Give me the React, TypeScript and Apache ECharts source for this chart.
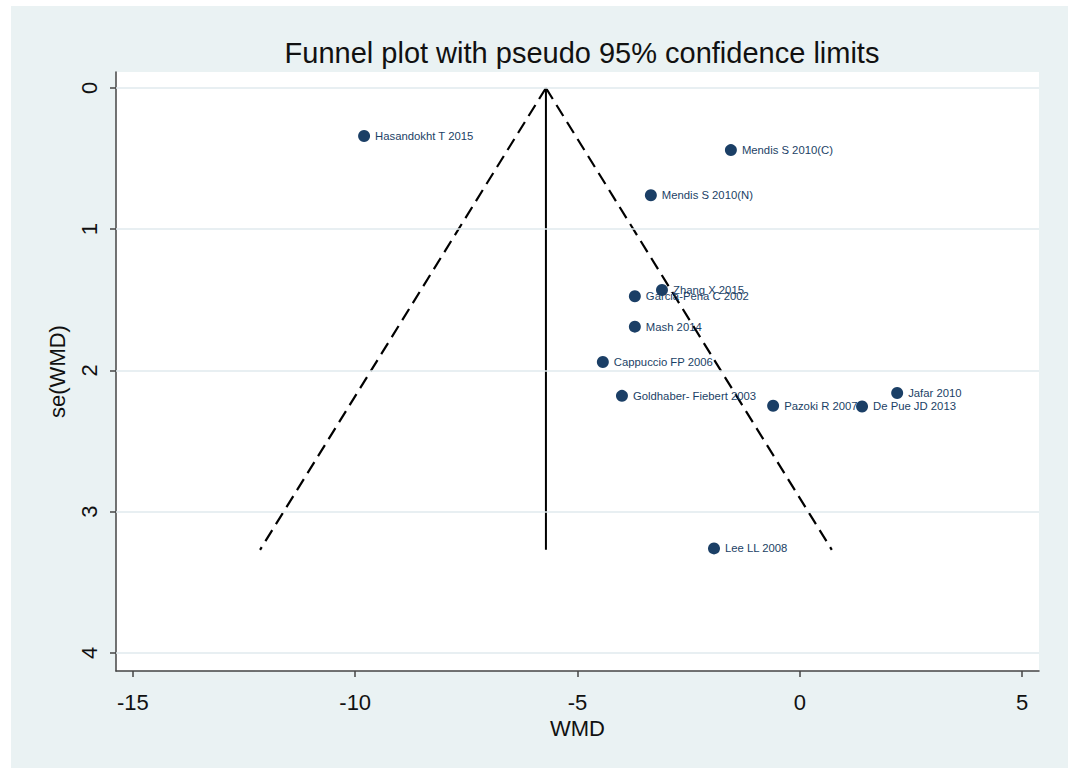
import React, { useEffect, useRef } from "react";
import * as echarts from "echarts";

const studyNames = [
  "Hasandokht T 2015",
  "Mendis S 2010(C)",
  "Mendis S 2010(N)",
  "Zhang X 2015",
  "Garcia-Pena C 2002",
  "Mash 2014",
  "Cappuccio FP 2006",
  "Goldhaber- Fiebert 2003",
  "Pazoki R 2007",
  "De Pue JD 2013",
  "Jafar 2010",
  "Lee LL 2008",
];
const wmdValues = [-9.8, -1.55, -3.35, -3.1, -3.71, -3.71, -4.43, -4.0, -0.6, 1.4, 2.19, -1.93];
const seValues = [0.34, 0.44, 0.76, 1.43, 1.475, 1.69, 1.94, 2.18, 2.25, 2.255, 2.16, 3.26];

const pooledLine = [[-5.71, 0], [-5.71, 3.27]];
const lowerLimit = [[-5.71, 0], [-12.14, 3.27]];
const upperLimit = [[-5.71, 0], [0.72, 3.27]];

const xTicks = [-15, -10, -5, 0, 5];
const yTicks = [0, 1, 2, 3, 4];

const NAVY = "#1b3f66";
const BG = "#eaf2f3";
const FONT = "'Liberation Sans', Arial, sans-serif";

export default function App() {
  const ref = useRef<HTMLDivElement>(null);
  useEffect(() => {
    document.body.style.margin = "0";
    const chart = echarts.init(ref.current!, null, { renderer: "svg" });
    const scatterData = studyNames.map((n, i) => ({ value: [wmdValues[i], seValues[i]], name: n }));
    chart.setOption({
      animation: false,
      backgroundColor: "#ffffff",
      textStyle: { fontFamily: FONT },
      graphic: [
        {
          type: "rect",
          shape: { x: 11, y: 6, width: 1057, height: 762 },
          style: { fill: BG },
          z: -10,
          silent: true,
        },
      ],
      title: {
        text: "Funnel plot with pseudo 95% confidence limits",
        left: 577,
        textAlign: "center",
        top: 33,
        textStyle: { fontFamily: FONT, fontSize: 29, fontWeight: "normal", color: "#111" },
      },
      grid: {
        left: 116,
        top: 72,
        right: 29,
        bottom: 99,
        show: true,
        backgroundColor: "#ffffff",
        borderWidth: 0,
      },
      xAxis: {
        type: "value",
        min: -15.38,
        max: 5.38,
        name: "WMD",
        nameLocation: "middle",
        nameGap: 46,
        nameTextStyle: { fontFamily: FONT, fontSize: 22, color: "#111" },
        axisLine: { show: true, onZero: false, lineStyle: { color: "#444", width: 1.5 } },
        axisTick: { show: true, length: 6, customValues: xTicks, lineStyle: { color: "#444", width: 1.5 } },
        axisLabel: {
          customValues: xTicks,
          fontFamily: FONT,
          fontSize: 22,
          color: "#111",
          margin: 20,
        },
        splitLine: { show: false },
      },
      yAxis: {
        type: "value",
        inverse: true,
        min: -0.113,
        max: 4.128,
        name: "se(WMD)",
        nameLocation: "middle",
        nameGap: 48,
        nameRotate: 90,
        nameTextStyle: { fontFamily: FONT, fontSize: 22, color: "#111" },
        axisLine: { show: true, onZero: false, lineStyle: { color: "#444", width: 1.5 } },
        axisTick: { show: true, length: 6, customValues: yTicks, lineStyle: { color: "#444", width: 1.5 } },
        axisLabel: {
          customValues: yTicks,
          rotate: 90,
          fontFamily: FONT,
          fontSize: 22,
          color: "#111",
          margin: 16,
        },
        splitLine: { show: false },
      },
      series: [
        {
          type: "line",
          data: [],
          silent: true,
          z: 1,
          markLine: {
            silent: true,
            symbol: "none",
            label: { show: false },
            lineStyle: { color: "#e0eaee", width: 1.5, type: "solid" },
            data: yTicks.map((v) => ({ yAxis: v })),
          },
        },
        {
          type: "line",
          data: pooledLine,
          symbol: "none",
          z: 3,
          lineStyle: { color: "#000", width: 2, type: "solid" },
        },
        {
          type: "line",
          data: lowerLimit,
          symbol: "none",
          z: 3,
          lineStyle: { color: "#000", width: 2.2, type: [13, 7] },
        },
        {
          type: "line",
          data: upperLimit,
          symbol: "none",
          z: 3,
          lineStyle: { color: "#000", width: 2.2, type: [13, 7] },
        },
        {
          type: "scatter",
          data: scatterData,
          symbol: "circle",
          symbolSize: 12,
          z: 5,
          itemStyle: { color: NAVY, opacity: 1 },
          label: {
            show: true,
            position: "right",
            distance: 5,
            formatter: (p: any) => p.name,
            fontFamily: FONT,
            fontSize: 11.3,
            color: NAVY,
          },
        },
      ],
    });
    return () => chart.dispose();
  }, []);
  return <div ref={ref} style={{ width: 1068, height: 770 }} />;
}
